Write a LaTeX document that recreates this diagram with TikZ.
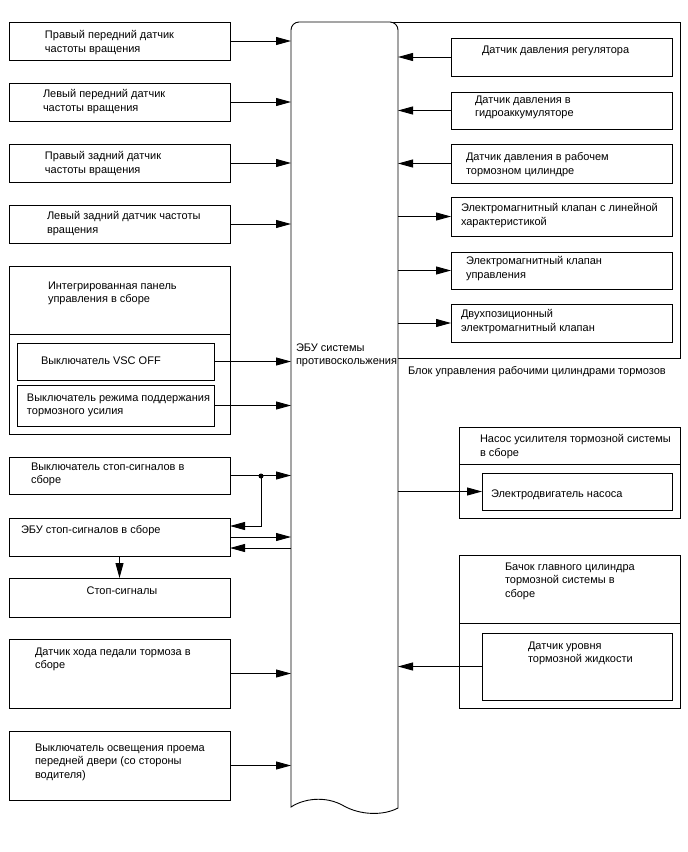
\documentclass[tikz,border=0pt]{standalone}
\usepackage{fontspec}
\setmainfont{Liberation Sans}
\usetikzlibrary{arrows.meta}
\newcommand\bx[5]{\node[box, minimum width={#4-#2}, minimum height={#5-#3}] (#1) at ({(#2+#4)/2},{(#3+#5)/2}) {};}
\newcommand\tx[4]{\node[txt] (#1) at (#2,{#3-3.5}) {#4};}
\begin{document}
\begin{tikzpicture}[x=1pt,y=-1pt,
 box/.style={draw, line width=0.9pt, inner sep=0pt, outer sep=0pt, fill=white},
 txt/.style={anchor=north west, inner sep=0pt, outer sep=0pt, align=left, font=\fontsize{11}{13.6}\selectfont, execute at begin node=\strut},
 arr/.style={line width=0.9pt, -{Triangle[length=15pt,width=8pt]}},
 ln/.style={line width=0.9pt}]
\useasboundingbox (0,0) rectangle (688,852);
% brake actuator block
\bx{blk}{350}{22}{680}{358}
% ECU
\node[inner sep=0pt, outer sep=0pt, minimum width=107, minimum height=785] (ecu) at (344.5,414.5) {};
\draw[ln, fill=white] (291,807) -- (291,30) .. controls (291,25.6) and (294.6,22) .. (299,22) -- (390,22) .. controls (394.4,22) and (398,25.6) .. (398,30) -- (398,808) .. controls (383,816) and (360,815) .. (344,806) .. controls (325,795) and (303,799) .. (291,807) -- cycle;
\tx{tecu}{296}{347}{ЭБУ системы\\противоскольжения}
% left boxes
\bx{l1}{9}{22}{230}{60}
\tx{tl1}{45}{34}{Правый передний датчик\\частоты вращения}
\bx{l2}{9}{83}{230}{121}
\tx{tl2}{43}{93}{Левый передний датчик\\частоты вращения}
\bx{l3}{9}{144}{230}{182}
\tx{tl3}{45}{155}{Правый задний датчик\\частоты вращения}
\bx{l4}{9}{205}{230}{243}
\tx{tl4}{47}{215}{Левый задний датчик частоты\\вращения}
\bx{pan}{9}{266}{230}{434}
\draw[ln] (pan.west |- 0,334) -- (pan.east |- 0,334);
\tx{tpan}{48}{285}{Интегрированная панель\\управления в сборе}
\bx{vsc}{17}{343}{214}{380}
\tx{tvsc}{41}{358}{Выключатель VSC OFF}
\bx{bh}{17}{385}{214}{426}
\tx{tbh}{27}{397}{Выключатель режима поддержания\\тормозного усилия}
\bx{ss}{9}{457}{230}{494}
\tx{tss}{31}{466}{Выключатель стоп-сигналов в\\сборе}
\bx{es}{9}{518}{230}{556}
\tx{tes}{21}{527}{ЭБУ стоп-сигналов в сборе}
\bx{sl}{9}{578}{230}{617}
\node[txt, anchor=north] (tsl) at (122,{588-3.5}) {Стоп-сигналы};
\bx{pd}{9}{639}{230}{708}
\tx{tpd}{35}{651}{Датчик хода педали тормоза в\\сборе}
\bx{dr}{9}{731}{230}{800}
\tx{tdr}{35}{747}{Выключатель освещения проема\\передней двери (со стороны\\водителя)}
% right boxes
\bx{r1}{451}{38}{672}{76}
\tx{tr1}{482}{47}{Датчик давления регулятора}
\bx{r2}{451}{92}{672}{129}
\tx{tr2}{475}{99}{Датчик давления в\\гидроаккумуляторе}
\bx{r3}{451}{144}{672}{183}
\tx{tr3}{466}{156}{Датчик давления в рабочем\\тормозном цилиндре}
\bx{r4}{451}{197}{672}{236}
\tx{tr4}{461}{207}{Электромагнитный клапан с линейной\\характеристикой}
\bx{r5}{451}{252}{672}{289}
\tx{tr5}{466}{260}{Электромагнитный клапан\\управления}
\bx{r6}{451}{304}{672}{342}
\tx{tr6}{461}{313}{Двухпозиционный\\электромагнитный клапан}
\tx{tblk}{408}{368}{Блок управления рабочими цилиндрами тормозов}
\bx{pump}{459}{427}{680}{518}
\draw[ln] (pump.west |- 0,464) -- (pump.east |- 0,464);
\tx{tpump}{480}{438}{Насос усилителя тормозной системы\\в сборе}
\bx{mot}{482}{473}{672}{510}
\tx{tmot}{491}{491}{Электродвигатель насоса}
\bx{res}{459}{555}{680}{708}
\draw[ln] (res.west |- 0,623) -- (res.east |- 0,623);
\tx{tres}{505}{566}{Бачок главного цилиндра\\тормозной системы в\\сборе}
\bx{lvl}{482}{633}{672}{700}
\tx{tlvl}{528}{645}{Датчик уровня\\тормозной жидкости}
% connectors left
\foreach \b in {l1,l2,l3,l4,vsc,bh,ss,es,pd,dr}
  \draw[arr] (\b.east) -- (\b.east -| ecu.west);
\coordinate (j) at (261,476);
\coordinate (k) at (261,526);
\fill (j) circle (2.5pt);
\draw[arr] (j) -- (k) -- (k -| es.east);
\path (es.east) ++(0,11) coordinate (es2);
\draw[arr] (es2 -| ecu.west) -- (es2);
\draw[arr] (es.south) -- (sl.north);
% connectors right
\foreach \b in {r1,r2,r3,lvl}
  \draw[arr] (\b.west) -- (\b.west -| ecu.east);
\foreach \b in {r4,r5,r6,mot}
  \draw[arr] (\b.west -| ecu.east) -- (\b.west);
\end{tikzpicture}
\end{document}
